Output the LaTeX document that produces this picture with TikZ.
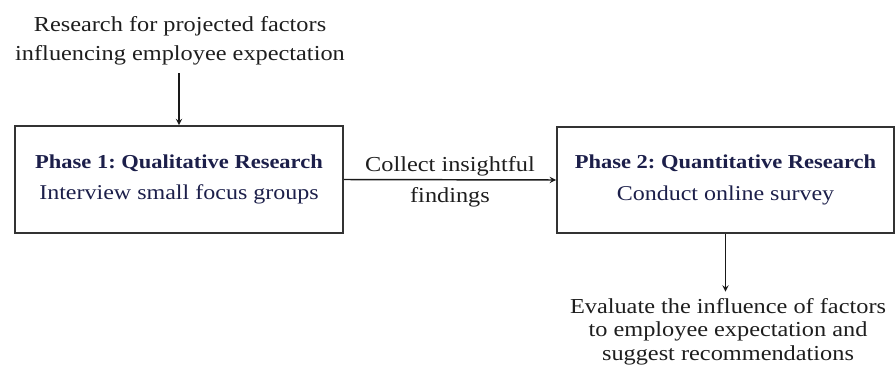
\documentclass[tikz,border=0pt]{standalone}
\usepackage{fontspec}
\setmainfont{Liberation Serif}[FakeStretch=1.14]
\frenchspacing
\usetikzlibrary{positioning}
\definecolor{phasenavy}{HTML}{1C1F4A}
\definecolor{textgray}{HTML}{1E1E1E}
\newcommand{\phasetitle}[1]{{\fontsize{14.8}{23.7}\selectfont\bfseries #1}}
\tikzset{
    phasebox/.style={draw=black!80,line width=1.5pt,minimum width=#1,minimum height=80pt,
        align=center,text=phasenavy,font=\fontsize{15.8}{23.7}\selectfont},
    note/.style={align=center,inner sep=0pt,text=textgray},
    flow/.style={->,line width=1.1pt,black!90}
}

\begin{document}
\begin{tikzpicture}[>=stealth,x=0.75pt,y=0.75pt]
    \useasboundingbox (0,0) rectangle (896,365);
    \node[phasebox=246pt] (ph1) at (179,185.5) {\phasetitle{Phase 1: Qualitative Research}\\Interview small focus groups};
    \node[phasebox=252.75pt] (ph2) at (725.5,185) {\phasetitle{Phase 2: Quantitative Research}\\Conduct online survey};
    \node[note,font=\fontsize{16}{21.2}\selectfont] (research) at (180,324.1) {Research for projected factors\\influencing employee expectation};
    \node[note,font=\fontsize{16}{23}\selectfont] (collect) at (450,182.9) {Collect insightful\\findings};
    \node[note,font=\fontsize{16}{17.5}\selectfont] (evaluate) at (728,33.3) {Evaluate the influence of factors\\to employee expectation and\\suggest recommendations};
    \draw[flow,shorten <=6pt] (research.south -| ph1.north) -- (ph1.north);
    \draw[flow] (ph1.east) -- (ph2.west);
    \draw[flow,shorten >=5pt] (ph2.south) -- (ph2.south |- evaluate.north);
\end{tikzpicture}
\end{document}
